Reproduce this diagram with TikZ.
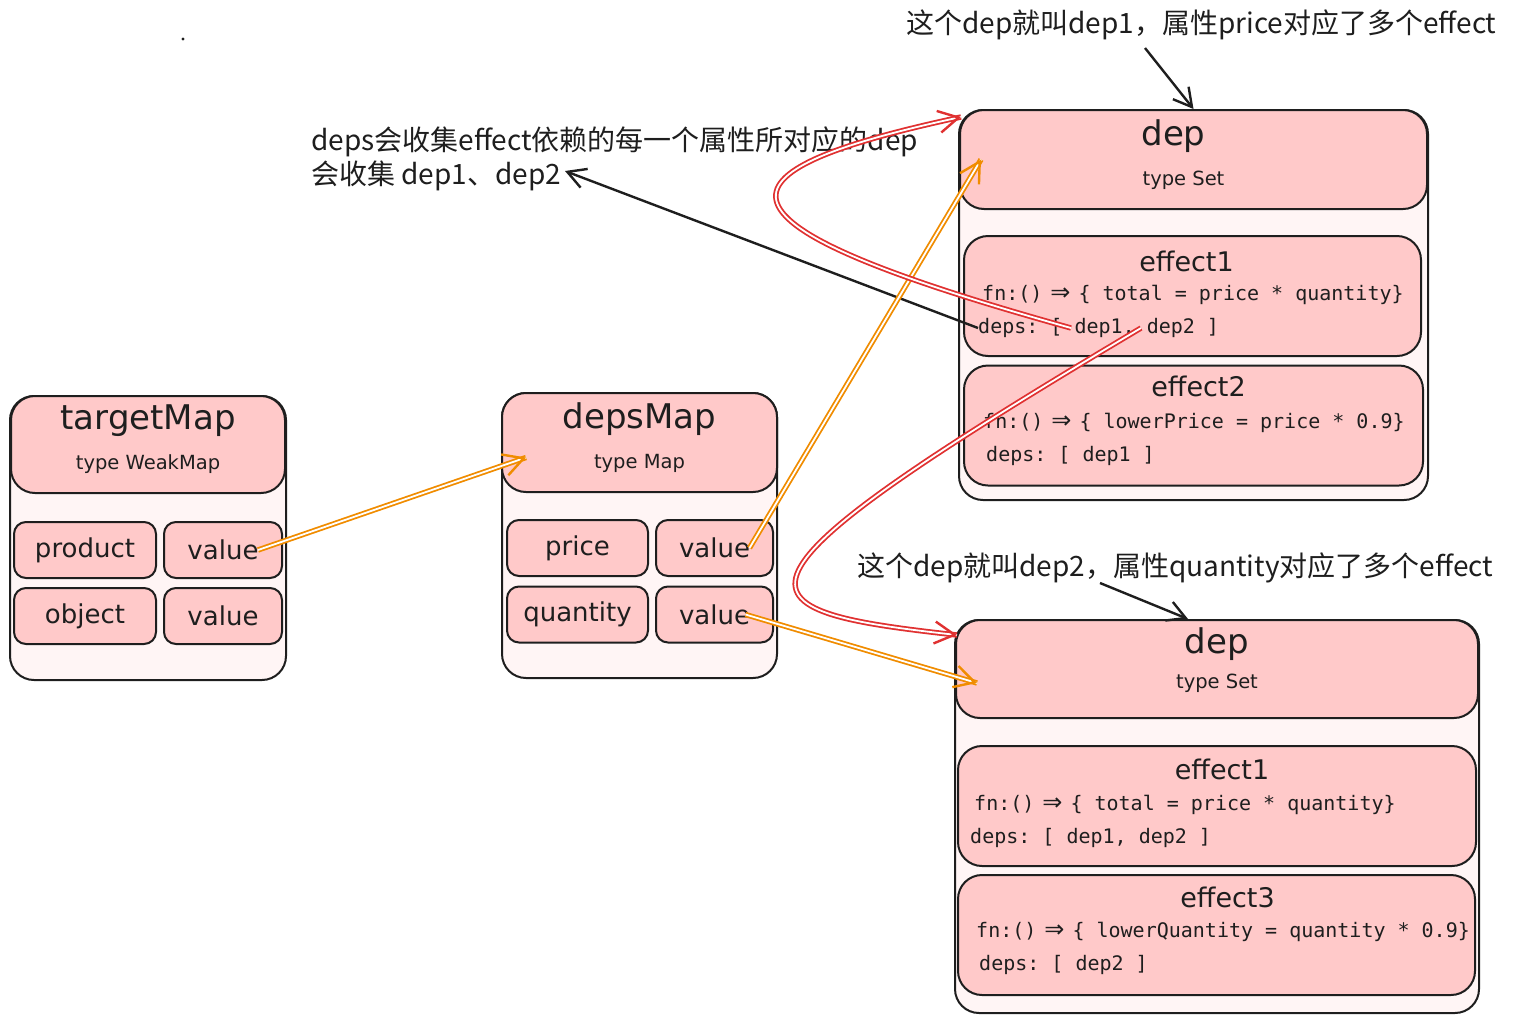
\documentclass[tikz,border=0pt]{standalone}
\usepackage{fontspec}
\usepackage{xcolor}
\usepackage{tikz}
\usetikzlibrary{positioning,arrows.meta}
\setmainfont{DejaVu Sans}
\setmonofont{DejaVu Sans Mono}
\newfontfamily\cjk{Noto Sans CJK SC}
\newcommand{\impl}{\makebox[0.602em]{\normalfont\fontsize{24pt}{22pt}\selectfont ⇒}}
\definecolor{inkc}{HTML}{1E1E1E}
\definecolor{pinkc}{HTML}{FFC9C9}
\definecolor{blushc}{HTML}{FFF5F5}
\definecolor{orangec}{HTML}{F08C00}
\definecolor{redc}{HTML}{E03131}
\tikzset{>={Straight Barb[length=18pt,width=20pt]}}
\tikzset{
  outerbox/.style={draw=inkc,line width=2pt,fill=blushc,rounded corners=24pt,inner sep=0pt},
  headbox/.style={draw=inkc,line width=2pt,fill=pinkc,rounded corners=24pt,inner sep=0pt},
  cellbox/.style={draw=inkc,line width=2pt,fill=pinkc,rounded corners=12pt,minimum height=56pt,
    inner sep=0pt,text=inkc,font=\fontsize{26pt}{28pt}\selectfont},
  effbox/.style={draw=inkc,line width=2pt,fill=pinkc,rounded corners=24pt,inner sep=0pt,minimum height=120pt},
  bigname/.style={text=inkc,inner sep=0pt,font=\fontsize{34pt}{38pt}\selectfont},
  typename/.style={text=inkc,inner sep=0pt,font=\fontsize{19.5pt}{22pt}\selectfont},
  effname/.style={text=inkc,inner sep=0pt,font=\fontsize{27pt}{30pt}\selectfont},
  codeline/.style={text=inkc,inner sep=0pt,anchor=west,font=\ttfamily\fontsize{20pt}{22pt}\selectfont},
  note/.style={text=inkc,inner sep=0pt,font=\cjk\fontsize{28pt}{34pt}\selectfont},
  inkarrow/.style={draw=inkc,line width=2.4pt,->},
  % sketchy double stroke underneath, only the solid tip on top
  twinarrow/.style={draw=#1,line width=2.4pt,dash pattern=on 0pt off 5000pt,
    -{Straight Barb[length=20pt,width=22pt]},
    preaction={draw=#1,solid,-,double=white,double distance=1.8pt,line width=1.8pt}}
}

\begin{document}
\begin{tikzpicture}[x=1pt,y=1pt]
    \useasboundingbox (0,0) rectangle (1514,-1023);
    \node [circle,fill=inkc,inner sep=1.2pt] (dot) at (183,-39) {};

    % targetMap
    \node [outerbox,minimum width=276pt,minimum height=284pt] (tm) at (148,-538) {};
    \node [headbox,minimum width=274pt,minimum height=97pt,anchor=north] (tmhead) at (tm.north) {};
    \node [bigname] (tmname) at ([yshift=-26pt]tmhead.north) {targetMap};
    \node [typename] (tmtype) at ([yshift=-69pt]tmhead.north) {type WeakMap};
    \node [cellbox,minimum width=142pt] (tmkey1) at (85,-550) {product};
    \node [cellbox,minimum width=118pt] (tmval1) at (223,-550) {value};
    \node [cellbox,minimum width=142pt] (tmkey2) at (85,-616) {object};
    \node [cellbox,minimum width=118pt] (tmval2) at (223,-616) {value};

    % depsMap
    \node [outerbox,minimum width=275pt,minimum height=285pt] (dm) at (639.5,-535.5) {};
    \node [headbox,minimum width=275pt,minimum height=99pt,anchor=north] (dmhead) at (dm.north) {};
    \node [bigname] (dmname) at ([yshift=-27pt]dmhead.north) {depsMap};
    \node [typename] (dmtype) at ([yshift=-71pt]dmhead.north) {type Map};
    \node [cellbox,minimum width=141pt] (dmkey1) at (577.5,-548) {price};
    \node [cellbox,minimum width=117pt] (dmval1) at (714.5,-548) {value};
    \node [cellbox,minimum width=141pt] (dmkey2) at (577.5,-614.5) {quantity};
    \node [cellbox,minimum width=117pt] (dmval2) at (714.5,-614.5) {value};

    % dep1
    \node [outerbox,minimum width=469pt,minimum height=390pt] (dp1) at (1193.5,-305) {};
    \node [headbox,minimum width=467pt,minimum height=99pt,anchor=north] (dp1head) at (dp1.north) {};
    \node [bigname] (dp1name) at ([xshift=-20pt,yshift=-27pt]dp1head.north) {dep};
    \node [typename] (dp1type) at ([xshift=-10pt,yshift=-71pt]dp1head.north) {type Set};
    \node [effbox,minimum width=457pt] (dp1e1) at (1192.5,-296) {};
    \node [effname] (dp1e1name) at ([xshift=-6pt,yshift=-26pt]dp1e1.north) {effect1};
    \node [codeline] (dp1e1fn) at ([xshift=19pt,yshift=-60pt]dp1e1.north west) {fn:() \impl{} \{ total = price * quantity\}};
    \node [codeline] (dp1e1dep) at ([xshift=15pt,yshift=-93pt]dp1e1.north west) {deps: [ dep1, dep2 ]};
    \node [effbox,minimum width=459pt] (dp1e2) at (1193.5,-425.5) {};
    \node [effname] (dp1e2name) at ([xshift=5pt,yshift=-22pt]dp1e2.north) {effect2};
    \node [codeline] (dp1e2fn) at ([xshift=20pt,yshift=-58pt]dp1e2.north west) {fn:() \impl{} \{ lowerPrice = price * 0.9\}};
    \node [codeline] (dp1e2dep) at ([xshift=23pt,yshift=-91pt]dp1e2.north west) {deps: [ dep1 ]};

    % dep2
    \node [outerbox,minimum width=524pt,minimum height=393pt] (dp2) at (1217,-816.5) {};
    \node [headbox,minimum width=522pt,minimum height=98pt,anchor=north] (dp2head) at (dp2.north) {};
    \node [bigname] (dp2name) at ([yshift=-25pt]dp2head.north) {dep};
    \node [typename] (dp2type) at ([yshift=-64pt]dp2head.north) {type Set};
    \node [effbox,minimum width=518pt] (dp2e1) at (1217,-806) {};
    \node [effname] (dp2e1name) at ([xshift=5pt,yshift=-24pt]dp2e1.north) {effect1};
    \node [codeline] (dp2e1fn) at ([xshift=17pt,yshift=-60pt]dp2e1.north west) {fn:() \impl{} \{ total = price * quantity\}};
    \node [codeline] (dp2e1dep) at ([xshift=13pt,yshift=-93pt]dp2e1.north west) {deps: [ dep1, dep2 ]};
    \node [effbox,minimum width=517pt] (dp2e3) at (1216.5,-935) {};
    \node [effname] (dp2e3name) at ([xshift=11pt,yshift=-23pt]dp2e3.north) {effect3};
    \node [codeline] (dp2e3fn) at ([xshift=19pt,yshift=-58pt]dp2e3.north west) {fn:() \impl{} \{ lowerQuantity = quantity * 0.9\}};
    \node [codeline] (dp2e3dep) at ([xshift=22pt,yshift=-91pt]dp2e3.north west) {deps: [ dep2 ]};

    % notes
    \node [note,anchor=west] (note1) at (906,-25) {这个dep就叫dep1，属性price对应了多个effect};
    \node [note,anchor=west] (note2) at (857,-568) {这个dep就叫dep2，属性quantity对应了多个effect};
    \node [note,anchor=north west,align=left] (note3) at (311,-127) {deps会收集effect依赖的每一个属性所对应的dep\\会收集 dep1、dep2};
    \coordinate (note1foot) at (1145,-48);
    \coordinate (note2foot) at (1100,-583);
    \coordinate (note3end) at (565,-171);

    \draw [inkarrow] (note1foot) -- (dp1.north);
    \draw [inkarrow] (note2foot) -- ([xshift=-29pt]dp2.north);
    \draw [inkarrow] (dp1e1dep.west) -- (note3end);

    \draw [twinarrow=orangec] ([xshift=35pt]tmval1.center) -- ([xshift=25pt,yshift=-15pt]dmhead.west);
    \draw [twinarrow=orangec] ([xshift=35pt]dmval1.center) -- ([xshift=22pt]dp1head.west);
    \draw [twinarrow=orangec] ([xshift=31pt]dmval2.center) -- ([xshift=22pt,yshift=-14pt]dp2head.west);

    \draw [twinarrow=redc] ([xshift=93pt]dp1e1dep.west) .. controls (690,-222) and (705,-172) .. ([xshift=3pt,yshift=-8pt]dp1.north west);
    \draw [twinarrow=redc] ([xshift=163pt]dp1e1dep.west) .. controls (700,-590) and (730,-610) .. ([xshift=3pt,yshift=-16pt]dp2.north west);
\end{tikzpicture}
\end{document}
